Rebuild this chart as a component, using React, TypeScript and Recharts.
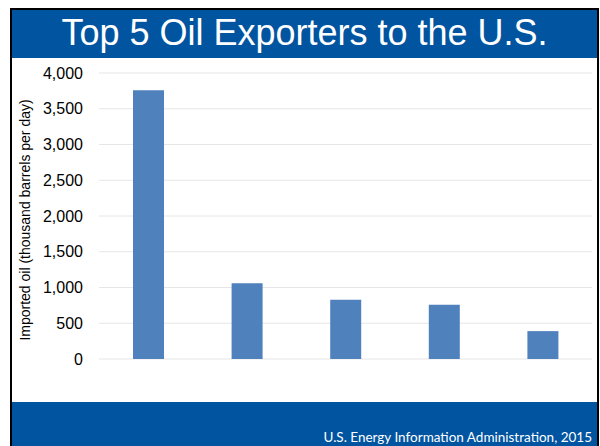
import { BarChart, Bar, XAxis, YAxis, CartesianGrid } from "recharts";

const countries = ["Canada", "Saudi Arabia", "Venezuela", "Mexico", "Colombia"];
const imports = [3760, 1060, 830, 760, 390];
const yTicks = [0, 500, 1000, 1500, 2000, 2500, 3000, 3500, 4000];

const data = countries.map((name, i) => ({ name, value: imports[i] }));

const BLUE = "#0154A0";
const FONT = "'Liberation Sans', Arial, sans-serif";

const AxisTitle = () => (
  <text
    x={25}
    y={220}
    transform="rotate(-90, 25, 220)"
    textAnchor="middle"
    dominantBaseline="central"
    fontFamily={FONT}
    fontSize={14}
    fill="#000"
  >
    Imported oil (thousand barrels per day)
  </text>
);

export default function App() {
  return (
    <div style={{ position: "absolute", left: 0, top: 0, width: 600, height: 446, background: "#fff", overflow: "hidden" }}>
      {/* black frame */}
      <div style={{ position: "absolute", left: 10, top: 8, width: 589, height: 450, background: "#000" }} />
      <div style={{ position: "absolute", left: 12, top: 10, width: 585, height: 450, background: "#fff" }} />
      {/* title band */}
      <div
        style={{
          position: "absolute",
          left: 12,
          top: 10,
          width: 585,
          height: 48,
          background: BLUE,
          color: "#fff",
          fontFamily: FONT,
          fontSize: 36,
          lineHeight: "46px",
          textAlign: "center",
        }}
      >
        Top 5 Oil Exporters to the U.S.
      </div>
      {/* footer band */}
      <div
        style={{
          position: "absolute",
          left: 12,
          top: 402,
          width: 585,
          height: 44,
          background: BLUE,
        }}
      />
      <div
        style={{
          position: "absolute",
          right: 8,
          top: 428,
          color: "#fff",
          fontFamily: "Lato, 'Open Sans', sans-serif",
          fontSize: 13.5,
          lineHeight: "18px",
          whiteSpace: "nowrap",
        }}
      >
        U.S. Energy Information Administration, 2015
      </div>
      <div style={{ position: "absolute", left: 0, top: 0 }}>
        <BarChart width={600} height={446} data={data} margin={{ top: 73, right: 8, bottom: 87, left: 0 }}>
          <CartesianGrid vertical={false} stroke="#e6e6e6" strokeWidth={1} />
          <XAxis dataKey="name" tick={false} tickLine={false} height={0} axisLine={{ stroke: "#d9d9d9" }} />
          <YAxis
            width={99}
            domain={[0, 4000]}
            ticks={yTicks}
            interval={0}
            tickFormatter={(v: number) => v.toLocaleString("en-US")}
            axisLine={false}
            tickLine={false}
            tickSize={6}
            tickMargin={10}
            tick={{ fontSize: 16, fill: "#000", fontFamily: FONT }}
            label={<AxisTitle />}
          />
          <Bar dataKey="value" fill="#4F81BD" barSize={31} isAnimationActive={false} />
        </BarChart>
      </div>
    </div>
  );
}
